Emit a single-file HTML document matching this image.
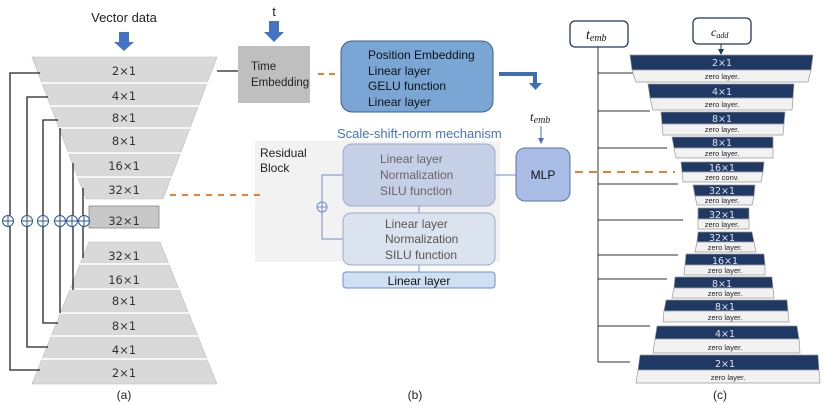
<!DOCTYPE html>
<html><head><meta charset="utf-8"><style>
html,body{margin:0;padding:0;background:#fff;}
svg{display:block;font-family:"Liberation Sans",sans-serif;}
.g{font-family:"DejaVu Sans","Liberation Sans",sans-serif;}
</style></head><body>
<svg width="830" height="404" viewBox="0 0 830 404" xmlns="http://www.w3.org/2000/svg">
<defs>
<marker id="ab" markerWidth="6" markerHeight="6" refX="3" refY="3" orient="auto"><path d="M0,0 L6,3 L0,6z" fill="#4472c4"/></marker>
<marker id="an" markerWidth="6" markerHeight="6" refX="3" refY="3" orient="auto"><path d="M0,0 L6,3 L0,6z" fill="#1f3864"/></marker>
</defs>
<!-- Panel a -->
<text x="124" y="22" font-size="13" text-anchor="middle" fill="#222">Vector data</text>
<path d="M119,32 h10 v10 h5 l-10,9 l-10,-9 h5z" fill="#4472c4"/>
<polygon points="32,57 217,57 163,199 86,199" fill="#d9d9d9" stroke="#bbb" stroke-width="0.6"/>
<polygon points="89,242 160,242 217,384 32,384" fill="#d9d9d9" stroke="#bbb" stroke-width="0.6"/>
<g stroke="#fff" stroke-width="1.5">
<line x1="40" y1="83" x2="210" y2="83"/><line x1="48" y1="106" x2="200" y2="106"/><line x1="57" y1="128" x2="192" y2="128"/><line x1="66" y1="153" x2="183" y2="153"/><line x1="75" y1="177" x2="174" y2="177"/>
<line x1="78" y1="264" x2="171" y2="264"/><line x1="68" y1="289" x2="181" y2="289"/><line x1="58" y1="313" x2="191" y2="313"/><line x1="49" y1="336" x2="200" y2="336"/><line x1="40" y1="359" x2="209" y2="359"/>
</g>
<rect x="89" y="206" width="70" height="22" fill="#c8c8c8" stroke="#888" stroke-width="0.8"/>
<g class="g" font-size="11.5" fill="#333" text-anchor="middle">
<text x="124" y="75">2×1</text><text x="124" y="100">4×1</text><text x="124" y="122">8×1</text><text x="124" y="145">8×1</text><text x="124" y="170">16×1</text><text x="124" y="194">32×1</text>
<text x="124" y="225">32×1</text>
<text x="124" y="260">32×1</text><text x="124" y="284">16×1</text><text x="124" y="305">8×1</text><text x="124" y="330">8×1</text><text x="124" y="354">4×1</text><text x="124" y="377">2×1</text>
</g>
<g stroke="#222" stroke-width="1.3" fill="none">
<polyline points="40,73 10,73 10,370 40,370"/>
<polyline points="48,97 27,97 27,347 48,347"/>
<polyline points="58,120 43,120 43,323 58,323"/>
<line x1="60" y1="128" x2="60" y2="313"/>
<line x1="73" y1="163" x2="73" y2="290"/>
<line x1="83" y1="188" x2="83" y2="258"/>
<line x1="217" y1="71" x2="238" y2="71"/>
</g>
<g stroke="#2f5597" stroke-width="1" fill="#fff">
<circle cx="8" cy="221" r="5.5"/><circle cx="27" cy="221" r="5.5"/><circle cx="43" cy="221" r="5.5"/><circle cx="60" cy="221" r="5.5"/><circle cx="72" cy="221" r="5.5"/><circle cx="84" cy="221" r="5.5"/>
</g>
<g stroke="#2f5597" stroke-width="1">
<path d="M2.5,221h11M8,215.5v11M21.5,221h11M27,215.5v11M37.5,221h11M43,215.5v11M54.5,221h11M60,215.5v11M66.5,221h11M72,215.5v11M78.5,221h11M84,215.5v11"/>
</g>
<text x="124" y="399" font-size="12" text-anchor="middle" fill="#222">(a)</text>
<!-- Panel b -->
<text x="274" y="16" font-size="13" text-anchor="middle" fill="#222">t</text>
<path d="M269,21 h10 v11 h5 l-10,10 l-10,-10 h5z" fill="#4472c4"/>
<rect x="238" y="46" width="72" height="57" fill="#bfbfbf"/>
<text x="251" y="70" font-size="11.5" fill="#222">Time</text>
<text x="251" y="86" font-size="11.5" fill="#222">Embedding</text>
<line x1="318" y1="74" x2="340" y2="74" stroke="#ed7d31" stroke-width="2" stroke-dasharray="6,5"/>
<rect x="341" y="41" width="152" height="71" rx="11" fill="#7aa6d6" stroke="#3c5f8a" stroke-width="1"/>
<g font-size="12" fill="#111"><text x="368" y="59">Position Embedding</text><text x="368" y="75">Linear layer</text><text x="368" y="90">GELU function</text><text x="368" y="106">Linear layer</text></g>
<path d="M499,74 h36 v9" stroke="#3a6fb8" stroke-width="4" fill="none"/>
<path d="M529,83 h13 l-6.5,7z" fill="#3a6fb8"/>
<text x="530" y="121" font-size="13" font-style="italic" fill="#222" font-family="Liberation Serif,serif">t<tspan font-size="10" dy="2">emb</tspan></text>
<line x1="541" y1="126" x2="541" y2="141" stroke="#4472c4" stroke-width="1" marker-end="url(#ab)"/>
<text x="337" y="138" font-size="13" fill="#4472c4">Scale-shift-norm mechanism</text>
<rect x="255" y="141" width="245" height="121" fill="#f2f2f2"/>
<text x="260" y="157" font-size="12" fill="#222">Residual</text><text x="260" y="172" font-size="12" fill="#222">Block</text>
<line x1="170" y1="195" x2="265" y2="195" stroke="#ed7d31" stroke-width="2" stroke-dasharray="6,6"/>
<g stroke="#6e8fc8" stroke-width="1" fill="none">
<polyline points="343,175 322,175 322,239 343,239"/>
<line x1="419" y1="206" x2="419" y2="213"/><line x1="419" y1="265" x2="419" y2="272"/>
<line x1="495" y1="175" x2="516" y2="175"/>
</g>
<circle cx="322" cy="207" r="5" fill="#f2f2f2" stroke="#6e8fc8"/><path d="M317,207h10M322,202v10" stroke="#6e8fc8"/>
<rect x="343" y="144" width="152" height="62" rx="9" fill="#c5cfe6" stroke="#9aabcf"/>
<g font-size="12" fill="#666"><text x="380" y="163">Linear layer</text><text x="380" y="179">Normalization</text><text x="380" y="195">SILU function</text></g>
<rect x="343" y="213" width="152" height="52" rx="8" fill="#dbe3ef" stroke="#9aabcf"/>
<g font-size="12" fill="#555"><text x="385" y="228">Linear layer</text><text x="385" y="243">Normalization</text><text x="385" y="259">SILU function</text></g>
<rect x="343" y="272" width="152" height="16" rx="3" fill="#cfe0f2" stroke="#6e8fc8"/>
<text x="419" y="285" font-size="12" text-anchor="middle" fill="#111">Linear layer</text>
<rect x="516" y="148" width="54" height="53" rx="9" fill="#a9bde6" stroke="#5a74a8"/>
<text x="543" y="179" font-size="12" text-anchor="middle" fill="#111">MLP</text>
<line x1="575" y1="172" x2="675" y2="172" stroke="#ed7d31" stroke-width="2" stroke-dasharray="8,6"/>
<text x="415" y="399" font-size="12" text-anchor="middle" fill="#222">(b)</text>
<!-- Panel c -->
<rect x="570" y="21" width="58" height="26" rx="5" fill="#fff" stroke="#1f3864" stroke-width="1.3"/>
<text x="586" y="39" font-size="14" font-style="italic" fill="#111" font-family="Liberation Serif,serif">t<tspan font-size="10" dy="2">emb</tspan></text>
<rect x="693" y="18" width="58" height="26" rx="5" fill="#fff" stroke="#1f3864" stroke-width="1.3"/>
<text x="711" y="36" font-size="12" font-style="italic" fill="#111" font-family="Liberation Serif,serif">c<tspan font-size="8" dy="2">add</tspan></text>
<line x1="721" y1="44" x2="721" y2="52" stroke="#1f3864" marker-end="url(#an)"/>
<g stroke="#333" stroke-width="1" fill="none">
<line x1="598" y1="47" x2="598" y2="362"/>
<line x1="598" y1="73" x2="633" y2="73"/><line x1="598" y1="111" x2="650" y2="111"/><line x1="598" y1="148" x2="667" y2="148"/>
<line x1="598" y1="184" x2="678" y2="184"/><line x1="598" y1="220" x2="683" y2="220"/><line x1="598" y1="255" x2="678" y2="255"/>
<line x1="598" y1="279" x2="667" y2="279"/><line x1="598" y1="326" x2="650" y2="326"/><line x1="598" y1="362" x2="630" y2="362"/>
</g>
<g stroke="#999" stroke-width="0.7">
<polygon points="630,55 813,55 811,70 632,70" fill="#1f3864"/><polygon points="632,70 811,70 808,82 636,82" fill="#f2f2f2"/>
<polygon points="648,84 794,84 793,98 650,98" fill="#1f3864"/><polygon points="650,98 793,98 792,110 653,110" fill="#f2f2f2"/>
<polygon points="661,112 785,112 784,124 662,124" fill="#1f3864"/><polygon points="662,124 784,124 783,135 663,135" fill="#f2f2f2"/>
<polygon points="672,137 773,137 773,148 674,148" fill="#1f3864"/><polygon points="674,148 773,148 773,158 676,158" fill="#f2f2f2"/>
<polygon points="681,162 764,162 763,172 682,172" fill="#1f3864"/><polygon points="682,172 763,172 761,182 683,182" fill="#f2f2f2"/>
<polygon points="693,185 755,185 754,196 695,196" fill="#1f3864"/><polygon points="695,196 754,196 752,205 697,205" fill="#f2f2f2"/>
<polygon points="698,208 749,208 749,219 698,219" fill="#1f3864"/><polygon points="698,219 749,219 749,229 698,229" fill="#f2f2f2"/>
<polygon points="698,232 752,232 754,242 697,242" fill="#1f3864"/><polygon points="697,242 754,242 756,252 695,252" fill="#f2f2f2"/>
<polygon points="686,254 764,254 765,265 685,265" fill="#1f3864"/><polygon points="685,265 765,265 765,275 684,275" fill="#f2f2f2"/>
<polygon points="675,277 772,277 773,288 674,288" fill="#1f3864"/><polygon points="674,288 773,288 774,298 672,298" fill="#f2f2f2"/>
<polygon points="666,300 787,300 788,311 664,311" fill="#1f3864"/><polygon points="664,311 788,311 789,322 663,322" fill="#f2f2f2"/>
<polygon points="657,326 797,326 799,339 655,339" fill="#1f3864"/><polygon points="655,339 799,339 800,353 653,353" fill="#f2f2f2"/>
<polygon points="640,355 818,355 819,370 638,370" fill="#1f3864"/><polygon points="638,370 819,370 820,383 636,383" fill="#f2f2f2"/>
</g>
<g class="g" font-size="9.5" fill="#dde3ee" text-anchor="middle">
<text x="722" y="66">2×1</text><text x="722" y="95">4×1</text><text x="722" y="122">8×1</text><text x="722" y="146">8×1</text><text x="722" y="171">16×1</text><text x="722" y="194">32×1</text><text x="722" y="218">32×1</text><text x="722" y="241">32×1</text><text x="725" y="264">16×1</text><text x="722" y="287">8×1</text><text x="725" y="310">8×1</text><text x="725" y="337">4×1</text><text x="725" y="367">2×1</text>
</g>
<g font-size="7.5" fill="#222" text-anchor="middle">
<text x="722" y="79">zero layer.</text><text x="722" y="107">zero layer.</text><text x="722" y="132">zero layer.</text><text x="722" y="156">zero layer.</text><text x="722" y="180">zero conv.</text><text x="722" y="203">zero layer.</text><text x="722" y="227">zero layer.</text><text x="725" y="250">zero layer.</text><text x="725" y="273">zero layer.</text><text x="725" y="296">zero layer.</text><text x="725" y="320">zero layer.</text><text x="725" y="350">zero layer.</text><text x="728" y="380">zero layer.</text>
</g>
<text x="720" y="399" font-size="12" text-anchor="middle" fill="#222">(c)</text>
</svg>
</body></html>
